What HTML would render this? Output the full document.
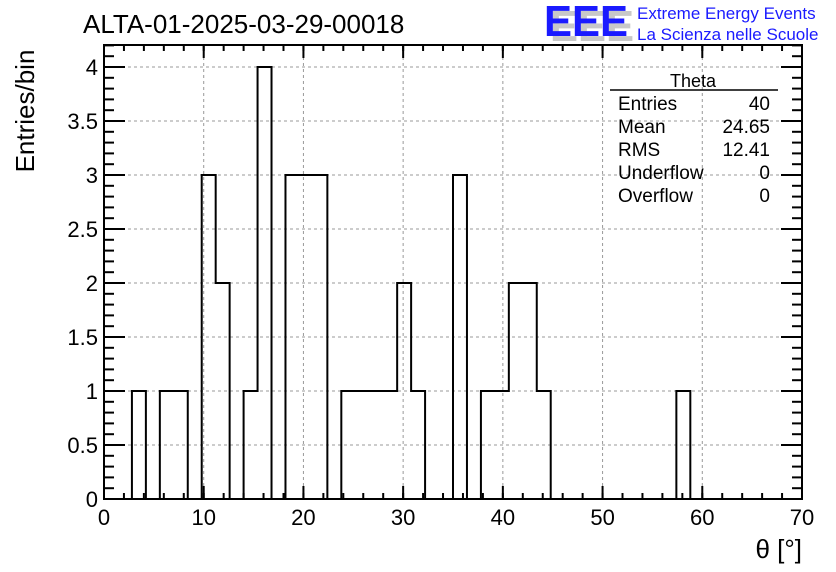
<!DOCTYPE html>
<html><head><meta charset="utf-8">
<style>
body{margin:0;background:#fff;}
svg{display:block;font-family:"Liberation Sans",sans-serif;}
</style></head>
<body>
<svg id="c" width="836" height="572" viewBox="0 0 836 572">
<rect x="0" y="0" width="836" height="572" fill="#fff"/>
<g id="grid"></g>
<g id="bars"></g>
<rect x="104" y="45" width="698" height="454" fill="none" stroke="#000" stroke-width="2"/>
<g id="axes"></g>
<text x="83" y="33" font-size="26">ALTA-01-2025-03-29-00018</text>
<g font-size="44" font-weight="bold">
<text x="550" y="41" fill="#c8c8c8" textLength="84" lengthAdjust="spacingAndGlyphs">EEE</text>
<text x="544" y="36" fill="#1a1aff" textLength="84" lengthAdjust="spacingAndGlyphs">EEE</text>
</g>
<text x="637" y="19" font-size="17" fill="#1a1aff">Extreme Energy Events</text>
<text x="637" y="40" font-size="17" fill="#1a1aff">La Scienza nelle Scuole</text>
<text transform="translate(34,111) rotate(-90)" font-size="26" text-anchor="middle">Entries/bin</text>
<text x="802" y="558" font-size="26" text-anchor="end">θ [°]</text>
<g font-size="19">
<line x1="610" y1="90" x2="778" y2="90" stroke="#000" stroke-width="1.5"/>
<text x="693" y="87" text-anchor="middle" font-size="18">Theta</text>
<text x="618" y="110">Entries</text><text x="770" y="110" text-anchor="end">40</text>
<text x="618" y="133">Mean</text><text x="770" y="133" text-anchor="end">24.65</text>
<text x="618" y="156">RMS</text><text x="770" y="156" text-anchor="end">12.41</text>
<text x="618" y="179">Underflow</text><text x="770" y="179" text-anchor="end">0</text>
<text x="618" y="202">Overflow</text><text x="770" y="202" text-anchor="end">0</text>
</g>
</svg>
<script>
const binWidth = 1.4;
const binCounts = [0,0,1,0,1,1,0,3,2,0,1,4,0,3,3,3,0,1,1,1,1,2,1,0,0,3,0,1,1,2,2,1,0,0,0,0,0,0,0,0,0,1,0,0,0,0,0,0,0,0];
const xTicks = [0,10,20,30,40,50,60,70];
const yTicks = [0,0.5,1,1.5,2,2.5,3,3.5,4];
const yTickLabels = ["0","0.5","1","1.5","2","2.5","3","3.5","4"];

const X0=104,X1=802,Y0=499,Y1=67;
const xs=v=>X0+(v/70)*(X1-X0);
const ys=v=>Y0-(v/4)*(Y0-Y1);
const NS="http://www.w3.org/2000/svg";
function mk(t,a,p){const e=document.createElementNS(NS,t);for(const k in a)e.setAttribute(k,a[k]);p.appendChild(e);return e;}
const grid=document.getElementById('grid'),axes=document.getElementById('axes'),bars=document.getElementById('bars');
xTicks.forEach(v=>{
  if(v>0&&v<70){const l=mk('line',{x1:xs(v),x2:xs(v),y1:45,y2:499,stroke:'#999','stroke-dasharray':'3,3'},grid);
  
  }
  const t=mk('text',{x:xs(v),y:525,'font-size':22,'text-anchor':'middle'},axes);t.textContent=v;
  
  
  mk('line',{x1:xs(v),x2:xs(v),y1:499,y2:486,stroke:'#000','stroke-width':2},axes);
  mk('line',{x1:xs(v),x2:xs(v),y1:45,y2:58,stroke:'#000','stroke-width':2},axes);
});
for(let v=0;v<=70;v+=2){
  mk('line',{x1:xs(v),x2:xs(v),y1:499,y2:493,stroke:'#000','stroke-width':2},axes);
  mk('line',{x1:xs(v),x2:xs(v),y1:45,y2:51,stroke:'#000','stroke-width':2},axes);
}
yTicks.forEach((v,i)=>{
  if(v>0){const l=mk('line',{x1:104,x2:802,y1:ys(v),y2:ys(v),stroke:'#999','stroke-dasharray':'3,3'},grid);
  
  }
  const t=mk('text',{x:98,y:ys(v)+8,'font-size':22,'text-anchor':'end'},axes);t.textContent=yTickLabels[i];
  
  
  mk('line',{x1:104,x2:125,y1:ys(v),y2:ys(v),stroke:'#000','stroke-width':2},axes);
  mk('line',{x1:781,x2:802,y1:ys(v),y2:ys(v),stroke:'#000','stroke-width':2},axes);
});
for(let k=0;k<=42;k++){const v=k*0.1;
  mk('line',{x1:104,x2:114,y1:ys(v),y2:ys(v),stroke:'#000','stroke-width':2},axes);
  mk('line',{x1:792,x2:802,y1:ys(v),y2:ys(v),stroke:'#000','stroke-width':2},axes);
}
let d='M'+xs(0)+','+ys(0);
binCounts.forEach((c,i)=>{d+=' L'+xs(i*binWidth)+','+ys(c)+' L'+xs((i+1)*binWidth)+','+ys(c);});
d+=' L'+xs(70)+','+ys(0);
const p=mk('path',{d:d,fill:'none',stroke:'#000','stroke-width':2},bars);


</script>
</body></html>
